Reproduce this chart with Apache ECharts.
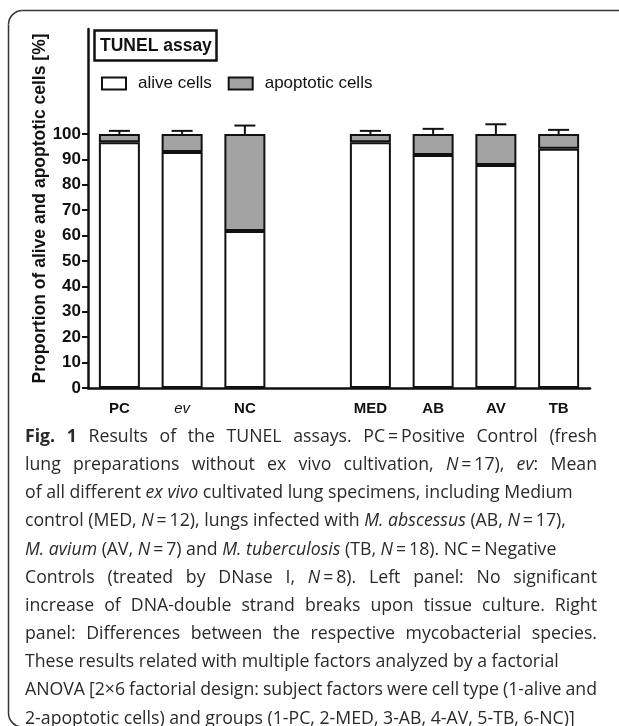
<!DOCTYPE html>
<html><head><meta charset="utf-8">
<script src="https://cdn.jsdelivr.net/npm/echarts@6/dist/echarts.min.js"></script>
<style>html,body{margin:0;padding:0;background:#fff}#c{width:619px;height:726px}</style>
</head><body><div id="c"></div>
<script>
// ---- data ----
const categories = ['PC', 'ev', 'NC', '', 'MED', 'AB', 'AV', 'TB'];
const aliveCells = [96.7, 92.9, 61.8, null, 96.7, 91.7, 87.8, 94.2];
const apoptoticCells = [3.3, 7.1, 38.2, null, 3.3, 8.3, 12.2, 5.8];
const errorSD = [1.2, 1.2, 3.3, null, 1.2, 2.0, 3.8, 1.6];
const yTickValues = [0, 10, 20, 30, 40, 50, 60, 70, 80, 90, 100];
const seriesNames = ['alive cells', 'apoptotic cells'];
const chartTitle = 'TUNEL assay';
const yAxisTitle = 'Proportion of alive and apoptotic cells [%]';
const captionLines = [
  '*Fig.* *1* Results of the TUNEL assays. PC\u2009=\u2009Positive Control (fresh',
  'lung preparations without ex vivo cultivation, _N_\u2009=\u200917), _ev_: Mean',
  'of all different _ex_ _vivo_ cultivated lung specimens, including Medium',
  'control (MED, _N_\u2009=\u200912), lungs infected with _M._ _abscessus_ (AB, _N_\u2009=\u200917),',
  '_M._ _avium_ (AV, _N_\u2009=\u20097) and _M._ _tuberculosis_ (TB, _N_\u2009=\u200918). NC\u2009=\u2009Negative',
  'Controls (treated by DNase I, _N_\u2009=\u20098). Left panel: No significant',
  'increase of DNA-double strand breaks upon tissue culture. Right',
  'panel: Differences between the respective mycobacterial species.',
  'These results related with multiple factors analyzed by a factorial',
  'ANOVA [2\u00d76 factorial design: subject factors were cell type (1-alive and',
  '2-apoptotic cells) and groups (1-PC, 2-MED, 3-AB, 4-AV, 5-TB, 6-NC)]'
];
// ---- layout (not data) ----
const captionJustified = [true, true, false, false, false, true, true, true, false, true, false];
const captionRight = 597;
const captionLeft = 25, captionTop = 437, captionStep = 28.15, captionSize = 17.7;
const captionFont = '"Open Sans", "Noto Sans", sans-serif';
const AX = '"Liberation Sans", Arial, sans-serif';

const chart = echarts.init(document.getElementById('c'), null, {renderer: 'canvas'});

const ctx = document.createElement('canvas').getContext('2d');
function fontStr(it, b) { return (it ? 'italic ' : 'normal ') + (b ? 'bold ' : 'normal ') + captionSize + 'px ' + captionFont; }
ctx.font = fontStr(false, false);
const spaceW = ctx.measureText(' ').width;
function parseWord(w) {
  const segs = []; let it = false, b = false, cur = '';
  for (const ch of w) {
    if (ch === '_' || ch === '*') {
      if (cur) segs.push({t: cur, it, b}); cur = '';
      if (ch === '_') it = !it; else b = !b;
    } else cur += ch;
  }
  if (cur) segs.push({t: cur, it, b});
  segs.forEach(s => { ctx.font = fontStr(s.it, s.b); s.w = ctx.measureText(s.t).width; });
  return segs;
}
const captionEls = [];
captionLines.forEach((line, li) => {
  const words = line.split(' ').map(parseWord);
  const widths = words.map(ss => ss.reduce((a, s) => a + s.w, 0));
  const total = widths.reduce((a, b) => a + b, 0);
  let gap = spaceW;
  if (captionJustified[li]) gap = Math.max(spaceW * 0.7, (captionRight - captionLeft - total) / (words.length - 1));
  let x = captionLeft;
  const y = captionTop + li * captionStep;
  words.forEach(ss => {
    ss.forEach(s => {
      captionEls.push({type: 'text', x: x, y: y, silent: true, style: {
        text: s.t, fill: '#2a2a2a', fontSize: captionSize, fontFamily: captionFont,
        fontStyle: s.it ? 'italic' : 'normal', fontWeight: s.b ? 'bold' : 'normal',
        align: 'left', verticalAlign: 'middle', textAlign: 'left', textVerticalAlign: 'middle'}});
      x += s.w;
    });
    x += gap;
  });
});

const errData = [];
categories.forEach((c, i) => {
  if (errorSD[i] != null) errData.push([i, aliveCells[i] + apoptoticCells[i], errorSD[i]]);
});

const frameStyle = {fill: 'none', stroke: '#333', lineWidth: 1.5};
const option = {
  animation: false,
  backgroundColor: '#fff',
  title: {
    text: chartTitle, left: 94, top: 30,
    padding: [7, 5, 6, 6], borderColor: '#111', borderWidth: 2.5,
    textStyle: {fontFamily: AX, fontSize: 17.5, fontWeight: 'bold', color: '#111'}
  },
  legend: {
    left: 101, top: 75, padding: 0, itemWidth: 24, itemHeight: 12, itemGap: 16,
    icon: 'rect',
    data: [
      {name: seriesNames[0], itemStyle: {color: '#fff', borderColor: '#111', borderWidth: 2}},
      {name: seriesNames[1], itemStyle: {color: '#a3a3a3', borderColor: '#111', borderWidth: 2}}
    ],
    textStyle: {fontFamily: AX, fontSize: 17, color: '#111', padding: [0, 0, 0, 7]}
  },
  grid: {left: 88, right: 29, top: 29, bottom: 338},
  xAxis: {
    type: 'category', data: categories, boundaryGap: true,
    axisLine: {lineStyle: {color: '#111', width: 2.5}},
    axisTick: {show: false},
    axisLabel: {
      margin: 13, interval: 0, fontFamily: AX, fontSize: 15, fontWeight: 'bold', color: '#111',
      formatter: v => v === 'ev' ? '{it|ev}' : v,
      rich: {it: {fontFamily: AX, fontSize: 15, fontStyle: 'italic', fontWeight: 'normal', color: '#111'}}
    }
  },
  yAxis: {
    type: 'value', min: 0, max: 141.3,
    name: yAxisTitle, nameLocation: 'middle', nameRotate: 90, nameGap: 39, nameMoveOverlap: false,
    nameTextStyle: {fontFamily: AX, fontSize: 17.5, fontWeight: 'bold', color: '#111'},
    axisLine: {show: true, lineStyle: {color: '#111', width: 2.5}},
    axisTick: {show: true, length: 6, customValues: yTickValues, lineStyle: {color: '#111', width: 2}},
    axisLabel: {customValues: yTickValues, margin: 7, fontFamily: AX, fontSize: 17, fontWeight: 'bold', color: '#111'},
    splitLine: {show: false}
  },
  series: [
    {name: seriesNames[0], type: 'bar', stack: 'tot', data: aliveCells, barWidth: 41,
      itemStyle: {color: '#fff', borderColor: '#111', borderWidth: 2}},
    {name: seriesNames[1], type: 'bar', stack: 'tot', data: apoptoticCells, barWidth: 41,
      itemStyle: {color: '#a3a3a3', borderColor: '#111', borderWidth: 2}},
    {type: 'custom', data: errData, z: 5,
      renderItem: function (params, api) {
        const i = api.value(0), top = api.value(1), sd = api.value(2);
        const p0 = api.coord([i, top]), p1 = api.coord([i, top + sd]);
        const hw = 10.5;
        return {type: 'group', children: [
          {type: 'line', shape: {x1: p0[0], y1: p0[1], x2: p1[0], y2: p1[1]}, style: {stroke: '#111', lineWidth: 2}},
          {type: 'line', shape: {x1: p1[0] - hw, y1: p1[1], x2: p1[0] + hw, y2: p1[1]}, style: {stroke: '#111', lineWidth: 2}}
        ]};
      }}
  ],
  graphic: [
    {type: 'line', silent: true, shape: {x1: 22.5, y1: 10.5, x2: 660, y2: 10.5}, style: frameStyle},
    {type: 'line', silent: true, shape: {x1: 8.5, y1: 24.5, x2: 8.5, y2: 713}, style: frameStyle},
    {type: 'arc', silent: true, shape: {cx: 22.5, cy: 24.5, r: 14, startAngle: Math.PI, endAngle: Math.PI * 1.5, clockwise: true}, style: frameStyle},
    {type: 'arc', silent: true, shape: {cx: 22.5, cy: 713, r: 14, startAngle: Math.PI * 0.5, endAngle: Math.PI, clockwise: true}, style: frameStyle},
    ...captionEls
  ]
};
chart.setOption(option);
</script></body></html>
